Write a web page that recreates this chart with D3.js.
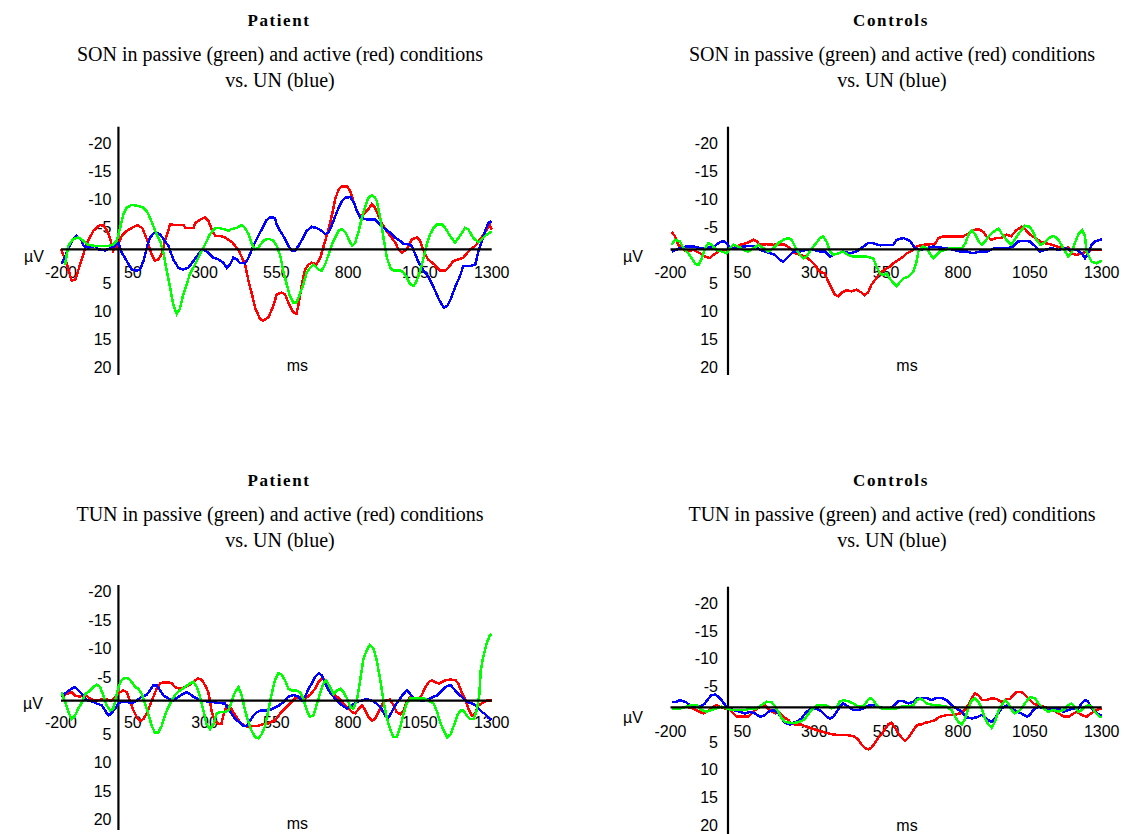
<!DOCTYPE html>
<html>
<head>
<meta charset="utf-8">
<script src="https://cdn.jsdelivr.net/npm/d3@7"></script>
<style>
  html, body { margin: 0; padding: 0; background: #fff; }
  svg { display: block; }
  .title { font-family: "Liberation Serif", "Times New Roman", serif; font-weight: bold; font-size: 17px; letter-spacing: 1.6px; }
  .subtitle { font-family: "Liberation Serif", "Times New Roman", serif; font-size: 20px; }
  .tick, .unit { font-family: "Liberation Sans", Arial, sans-serif; font-size: 16px; fill: #000; }
</style>
</head>
<body>
<svg id="chart" width="1128" height="834"></svg>
<script>
// Time axis (ms) and amplitude axis (µV, negative plotted upward)
const xTicks = [-200, 50, 300, 550, 800, 1050, 1300];
const yTicks = [-20, -15, -10, -5, 5, 10, 15, 20];
const timeDomain = [-200, 1300];

// Difference waves as [ms, µV] pairs.
// SON – Patient
const sonPatientActive = [[-200,0],[-180,2.5],[-163,5.6],[-150,5.4],[-117,0],[-105,-1.6],[-87,-3.3],[-65,-4.3],[-50,-4.2],[-34,-2.7],[-24,-1],[-18,0.3],[-6,-0.4],[12,-2.4],[30,-3.3],[47,-3.8],[65,-4.3],[83,-3.8],[101,-1.5],[113,0.6],[127,2],[139,1.8],[150,0.9],[162,-1.5],[180,-4.4],[205,-4.3],[227,-4.3],[233,-3.8],[262,-3.8],[268,-4.7],[285,-5.3],[302,-5.7],[314,-5],[325,-3.5],[337,-2.4],[355,-2.4],[372,-2.1],[397,-1.2],[420,0.3],[441,2.7],[453,5.6],[465,8],[476,10.4],[493,12.4],[505,12.7],[522,12.1],[533,10.9],[545,9.2],[551,8],[568,7.7],[580,8],[592,9.5],[609,11.2],[620,11.5],[626,10.1],[639,6.2],[650,3.6],[662,2.7],[673,2.4],[690,2.7],[703,1.5],[720,-1.5],[732,-3.6],[744,-6.2],[755,-8.9],[767,-10.7],[779,-11.2],[796,-11.2],[807,-10.4],[818,-8.6],[830,-6.8],[842,-5.9],[853,-6.2],[870,-7.1],[882,-8],[894,-7.4],[906,-5.9],[917,-4.7],[929,-3.6],[946,-2.4],[964,-1.2],[975,0],[987,0.6],[1004,0],[1022,-1.8],[1039,-2.1],[1051,-1.5],[1061,0],[1078,1.8],[1100,2.7],[1120,3.8],[1137,3.8],[1149,3.3],[1166,2.1],[1184,1.8],[1201,1.5],[1225,0],[1243,-0.6],[1260,-1.8],[1277,-3],[1293,-4.4],[1300,-3.5]];
const sonPatientUN = [[-198,2.6],[-180,0.6],[-162,-1.5],[-145,-2.4],[-128,-1.5],[-121,-0.6],[-104,-0.3],[-82,-0.6],[-70,0],[-46,0.2],[-29,-0.2],[-12,-0.6],[0,-1.2],[12,0.6],[29,2.1],[46,3.6],[64,3.8],[75,3.6],[87,2.1],[99,-0.3],[110,-2.1],[127,-3.1],[145,-2.7],[157,-1.8],[174,-0.6],[191,1.8],[209,3.3],[226,3.6],[243,3.3],[261,2.1],[278,0.9],[296,0],[313,0.6],[331,1.5],[348,1.8],[366,2.4],[377,3.3],[389,2.7],[400,1.5],[412,1.8],[423,2.4],[441,2.5],[453,1.5],[470,-0.6],[487,-2.4],[505,-4.1],[516,-5.2],[528,-5.7],[545,-5.6],[551,-4.4],[563,-3.3],[574,-2.4],[592,-0.6],[604,0.3],[615,0.2],[627,-0.6],[644,-2.1],[656,-3.3],[673,-4],[690,-3.8],[708,-3.3],[720,-2.7],[732,-3],[744,-4.4],[755,-5.9],[767,-7.4],[779,-8.6],[791,-9.2],[808,-9.3],[820,-8.3],[831,-6.8],[843,-5.6],[865,-5.3],[894,-5.3],[906,-4.7],[917,-4.1],[929,-3.6],[946,-3],[964,-2.1],[981,-1.5],[993,-0.9],[1010,-0.9],[1022,-0.6],[1034,0.9],[1046,2.4],[1063,3.8],[1081,5],[1098,6.8],[1116,8.9],[1133,10.4],[1145,10.1],[1157,8.9],[1172,6.8],[1190,4.7],[1201,3],[1225,3],[1243,2.7],[1254,0.3],[1266,-1.5],[1277,-3.3],[1289,-4.7],[1300,-5]];
const sonPatientPassive = [[-186,2.8],[-175,-0.6],[-158,-1.8],[-140,-2.1],[-122,-1.5],[-105,-0.8],[-82,-0.6],[-58,-0.6],[-35,-0.6],[-17,-0.9],[-6,-1.5],[6,-3.8],[17,-6.2],[29,-7.4],[46,-7.9],[69,-7.7],[87,-7.4],[99,-6.8],[110,-5.6],[122,-4.1],[133,-2.7],[145,-1.5],[157,0.6],[168,3.8],[180,6.8],[191,9.8],[203,11.5],[214,10.6],[226,8],[238,6.2],[249,4.4],[267,2.7],[284,0.9],[302,-0.9],[319,-2.7],[337,-3.8],[349,-3.8],[366,-3.6],[383,-3.3],[394,-3.6],[412,-3.8],[429,-4.3],[441,-3.8],[453,-2.7],[465,-0.9],[476,0],[487,-0.3],[505,-1.5],[516,-1.8],[528,-1.8],[540,-1.5],[551,-0.6],[563,1],[574,3.8],[586,6.2],[597,8.3],[609,9.5],[620,9.5],[632,8],[644,6.2],[656,4.1],[667,3.3],[679,2.7],[697,3.6],[708,3.8],[720,2.7],[732,0.9],[744,-0.9],[755,-2.1],[767,-3.3],[779,-3.6],[791,-3],[802,-1.8],[814,-0.6],[825,-1.2],[837,-3.3],[848,-5.6],[860,-7.7],[871,-9.2],[883,-9.6],[894,-9.2],[900,-8.6],[912,-5.6],[923,-2.1],[935,1.5],[947,3.3],[958,3.8],[981,3.8],[993,4.1],[1004,5],[1016,6.2],[1028,6.5],[1039,5.6],[1051,3.8],[1063,1.5],[1074,-0.9],[1086,-2.7],[1098,-3.8],[1109,-4.4],[1127,-4.4],[1138,-3.8],[1155,-2.4],[1172,-1.2],[1190,-2.4],[1207,-3.8],[1218,-3.6],[1235,-2.1],[1254,-1.2],[1265,-1.8],[1277,-2.4],[1294,-3],[1300,-3.2]];

// SON – Controls
const sonControlActive = [[-196,-3.1],[-184,-2.3],[-173,-0.8],[-161,-0.2],[-144,0.4],[-120,0.1],[-97,0.7],[-80,1.3],[-63,1.6],[-51,1],[-34,0.4],[-17,0.1],[1,0.1],[18,-0.2],[42,-0.8],[65,-1.1],[88,-1.7],[100,-1.4],[111,-0.8],[134,-0.9],[157,-0.8],[181,-0.9],[198,-0.8],[216,-0.2],[233,0.7],[250,1],[268,1.3],[285,1.9],[302,2.8],[320,4],[337,4.3],[349,5.8],[360,6.9],[372,8.1],[384,8.4],[395,7.7],[413,7.3],[430,7.5],[447,7.2],[465,7.7],[476,8.2],[488,7.6],[499,6.3],[511,5.5],[523,4.6],[534,4],[552,3.4],[563,3.1],[575,2.5],[593,1.9],[610,1.3],[622,0.7],[639,0.3],[656,-0.5],[679,-0.8],[702,-0.9],[720,-0.9],[732,-2],[749,-2.3],[772,-2.3],[795,-2.3],[818,-2.3],[836,-2.8],[853,-3.4],[871,-3.6],[888,-3.1],[899,-2.3],[916,-1.7],[933,-2],[951,-2],[968,-2.6],[985,-2.3],[1003,-3.4],[1021,-4],[1033,-3.6],[1051,-2.6],[1069,-2],[1086,-1.4],[1103,-1.1],[1127,-0.8],[1144,-0.5],[1161,-0.2],[1184,-0.3],[1195,0.7],[1213,1],[1230,0.7],[1247,0.4],[1265,0.1],[1282,0.1],[1300,0.1]];
const sonControlUN = [[-196,0.4],[-167,-0.2],[-144,-0.5],[-120,-0.5],[-97,-0.2],[-74,-0.3],[-51,-0.3],[-34,-1.1],[-17,-1.5],[-5,-1.1],[7,-0.2],[30,-0.2],[53,-0.5],[76,-0.6],[94,-0.5],[111,0.1],[129,0.4],[146,0.7],[164,1],[181,1.9],[193,2.2],[204,1.6],[216,1],[227,0.4],[250,0.4],[273,0.1],[297,0.1],[320,0.4],[337,0.4],[355,1.3],[366,1],[384,0.7],[401,0.4],[424,0.7],[447,0.4],[465,-0.3],[488,-1.1],[505,-1.1],[529,-0.7],[552,-0.8],[575,-0.8],[587,-1.7],[610,-2],[633,-1.5],[650,-0.2],[668,0.1],[691,-0.2],[714,-0.5],[737,-0.3],[760,-0.2],[784,0.1],[807,0.4],[830,0.4],[853,0.7],[877,0.4],[900,0.4],[923,-0.1],[946,-0.2],[969,-0.1],[992,-0.5],[1010,-1.4],[1028,-1.5],[1051,-1.4],[1069,-0.5],[1086,0.4],[1103,0.1],[1127,-0.2],[1150,0.1],[1173,-0.2],[1190,0.1],[1213,0.1],[1230,0.7],[1242,1.6],[1253,0.7],[1265,-0.8],[1276,-1.4],[1294,-1.7],[1300,-1.7]];
const sonControlPassive = [[-196,-0.8],[-184,-1.7],[-167,-1.4],[-155,-0.2],[-138,0.7],[-126,1.6],[-115,2.5],[-103,2.8],[-91,1.6],[-80,-0.2],[-68,-1.1],[-57,-0.8],[-40,0.1],[-22,0.4],[-5,0.7],[7,-0.2],[19,-0.8],[36,-0.5],[53,0.1],[71,0.4],[88,-0.2],[106,-0.8],[123,-0.2],[140,0.4],[158,-0.2],[175,-1.1],[193,-1.7],[210,-2],[221,-1.7],[233,-0.5],[250,1],[262,1.6],[273,1.3],[285,0.4],[302,-0.8],[320,-2],[331,-2.3],[343,-1.4],[355,0.4],[366,1],[384,0.7],[401,0.4],[418,1],[436,1.3],[459,1.3],[482,1.3],[505,1.6],[517,3.1],[529,4.3],[540,4.6],[552,4.3],[563,5.2],[575,6],[587,6.6],[598,5.8],[610,5.2],[627,4.9],[644,4],[656,2.2],[662,0.4],[679,-0.5],[691,-0.2],[702,0.7],[714,1.6],[726,1],[737,0.4],[755,0.1],[772,-0.2],[795,-0.2],[814,-0.2],[826,-1.1],[837,-2.6],[849,-3.4],[860,-2.6],[872,-1.4],[883,-0.8],[895,-1.4],[906,-2.3],[923,-3.1],[941,-3.7],[952,-2.8],[968,-1.7],[985,-0.8],[997,-1.7],[1016,-3.1],[1033,-4.2],[1050,-4],[1061,-3.1],[1073,-1.7],[1087,-0.8],[1099,-1.1],[1116,-2],[1133,-2.4],[1150,-1.7],[1166,-0.2],[1184,1.3],[1197,0.4],[1209,-1.4],[1220,-2.8],[1232,-3.4],[1242,-2.3],[1247,0.4],[1265,2.2],[1282,2.5],[1294,2.2],[1300,2]];

// TUN – Patient
const tunPatientActive = [[-198,-0.7],[-180,-1.2],[-163,-1.5],[-151,-0.9],[-134,-0.7],[-116,-1],[-99,-0.4],[-82,0],[-58,-0.2],[-41,-0.2],[-24,0],[-6,-1],[6,-1.5],[17,-1.8],[29,-1.5],[40,0],[52,1.7],[64,2.9],[75,3.6],[87,3.2],[98,2.3],[110,0.8],[122,-0.7],[133,-2.1],[145,-3],[156,-3.2],[174,-3.2],[185,-3.1],[197,-2.4],[214,-2.1],[232,-2.4],[243,-2.7],[255,-3],[267,-3.6],[278,-3.9],[290,-3.7],[302,-2.7],[313,-1.5],[319,0],[325,2],[336,3.5],[348,4.1],[359,4],[365,2.6],[377,0.8],[389,1.1],[400,2],[412,2.9],[423,3.8],[441,4.4],[453,4.6],[470,4.4],[487,4.4],[505,4.1],[522,4],[540,3.5],[545,3.5],[557,2.6],[568,2],[586,1.1],[598,0.5],[615,-0.4],[632,-0.7],[650,-0.4],[667,-1],[685,-2.1],[697,-3.3],[708,-3.9],[720,-3.6],[732,-2.7],[744,-1.5],[761,-0.7],[779,0.2],[796,1.1],[814,2],[825,2.2],[837,1.4],[848,0.8],[860,1.7],[871,2.9],[883,3.5],[894,3.2],[906,2],[917,0.8],[929,0],[946,-0.2],[958,0.8],[969,2],[981,2.4],[993,1.7],[1004,0.2],[1016,-0.6],[1028,-0.4],[1045,-0.1],[1057,-1],[1069,-2.4],[1081,-3.3],[1092,-3.6],[1104,-3.2],[1116,-3],[1127,-3.3],[1139,-3.6],[1157,-3.7],[1174,-3.6],[1184,-3],[1195,-1.5],[1207,-0.4],[1219,1.4],[1231,2.6],[1242,2.3],[1254,0.8],[1271,0.3],[1283,0],[1300,0]];
const tunPatientUN = [[-198,-0.7],[-180,-1.5],[-163,-2.1],[-151,-2.4],[-140,-1.8],[-128,-1.2],[-116,-0.4],[-105,0],[-87,0.2],[-76,0.5],[-58,0.8],[-47,1.7],[-35,2.6],[-24,2.2],[-12,1.4],[0,0.5],[12,0.2],[29,0.2],[46,0.4],[64,0],[81,-0.7],[98,-1],[110,-1.8],[122,-2.7],[133,-2.7],[145,-1.8],[157,-0.9],[174,-0.4],[191,0],[209,-0.7],[226,-1.2],[238,-1.5],[249,-1.2],[261,-0.7],[273,-0.4],[290,0],[307,0.1],[325,0.2],[348,0.4],[371,0.5],[383,1.4],[394,2.3],[406,3.2],[423,3.8],[435,4.4],[447,4.4],[458,3.5],[470,2.6],[482,2],[499,1.7],[516,1.7],[528,1.6],[545,1.2],[557,0.9],[574,0.3],[592,-0.7],[609,-1],[627,-0.7],[639,0],[650,-0.7],[662,-2.1],[673,-3],[685,-4.2],[697,-4.8],[708,-4.5],[720,-3],[732,-1.8],[744,-1],[761,0],[779,0.8],[796,1.4],[814,0.8],[830,0.2],[848,0],[865,-0.3],[883,0],[894,0.3],[912,1.1],[929,2.6],[941,2.9],[952,2],[964,0.8],[981,-0.4],[993,-1.2],[1004,-1.8],[1016,-1.2],[1028,-0.4],[1045,-0.1],[1063,0],[1081,-0.3],[1098,-0.7],[1110,-0.9],[1121,-1.5],[1133,-2.1],[1145,-2.6],[1157,-2.7],[1168,-2.1],[1178,-1.5],[1195,-0.7],[1213,0.2],[1231,0.5],[1243,0.8],[1254,1.4],[1266,2],[1277,2.3],[1289,3],[1300,3.4]];
const tunPatientPassive = [[-198,-1.5],[-186,0.2],[-174,2],[-163,3.2],[-151,2.6],[-140,1.4],[-128,0.4],[-116,-1.2],[-105,-1.5],[-87,-2.4],[-76,-2.8],[-64,-2.4],[-53,-1],[-41,0.8],[-29,1.7],[-18,1.4],[-12,0.2],[0,-2.4],[11,-3.6],[23,-4],[35,-3.9],[46,-3.3],[58,-2.4],[69,-2.1],[81,-1.2],[93,0.5],[104,2.3],[116,4.4],[127,5.6],[139,5.6],[151,4.4],[162,2.6],[174,1.1],[185,0],[197,-1],[214,-1.8],[232,-2.4],[249,-3],[261,-3.3],[273,-2.4],[284,-0.7],[296,1.7],[307,4.1],[319,5],[331,4.1],[342,2.3],[354,2],[371,2],[383,1.7],[394,0.2],[406,-1.5],[418,-2.4],[429,-1],[441,1.7],[453,3.8],[464,5.3],[476,6.4],[487,6.6],[499,5.9],[511,4.4],[522,1.7],[534,-1.2],[545,-3.6],[557,-4.8],[568,-4.6],[580,-3.6],[592,-2.1],[604,-1.8],[620,-1.8],[632,-1.5],[644,-0.4],[656,1.7],[667,2.8],[679,2.6],[690,0.8],[702,-1.2],[714,-3],[723,-3.6],[737,-2.4],[749,-1.2],[761,-1.8],[773,-2.1],[784,-1.5],[796,-0.4],[807,1.1],[818,1.4],[830,0],[842,-3.6],[853,-7.2],[865,-8.9],[876,-9.8],[888,-9.2],[899,-7.2],[911,-3.9],[923,0],[934,2.9],[946,5],[958,6.4],[969,6.4],[981,4.7],[993,2.3],[1004,0.5],[1016,-0.4],[1045,-0.4],[1063,-0.4],[1081,0],[1098,0.5],[1110,2],[1121,3.8],[1133,5.3],[1145,6.4],[1157,5.9],[1168,4.4],[1180,2.6],[1192,1.7],[1201,1.7],[1213,2.6],[1225,3.2],[1237,3.2],[1248,1.7],[1257,-1.2],[1262,-5.4],[1271,-7.8],[1283,-10.1],[1292,-11.3],[1300,-11.7]];

// TUN – Controls
const tunControlActive = [[-196,0.2],[-167,0.2],[-144,-0.1],[-121,0.2],[-103,0.7],[-86,1.1],[-68,0.6],[-51,-0.1],[-40,-0.4],[-28,-0.1],[-10,0.2],[1,0.2],[13,0.8],[30,1.7],[53,1.7],[71,1.7],[82,1.1],[94,0.5],[111,-0.1],[129,-0.3],[146,0.5],[164,1.1],[175,0.8],[192,1.7],[210,2.3],[221,3],[239,3.1],[256,3.1],[268,3.4],[285,3.7],[302,4],[320,4.3],[343,4.6],[366,4.9],[389,5],[413,5],[436,5.2],[453,5.8],[465,6.7],[476,7.3],[488,7.6],[499,7.3],[511,6.4],[523,5.5],[534,4.9],[546,4],[557,3.1],[569,2.8],[581,3.7],[592,4.6],[604,5.5],[616,6.1],[627,5.5],[639,4.6],[650,3.7],[662,3.1],[673,3.1],[685,2.8],[702,2.6],[720,2.3],[737,1.7],[760,1.4],[784,1.4],[807,1.1],[824,0.5],[836,-0.4],[848,-1.6],[859,-2.5],[871,-2.2],[883,-1.3],[900,-1.3],[917,-1.6],[935,-1.5],[946,-1.1],[958,-1],[969,-1.5],[981,-1.5],[992,-2.2],[1004,-2.8],[1021,-2.8],[1033,-2.2],[1051,-1.3],[1062,-0.7],[1081,-0.3],[1097,-0.1],[1115,0.2],[1132,0.5],[1150,1.1],[1168,1.7],[1186,1.7],[1203,1.1],[1214,0.8],[1230,1.4],[1247,1.7],[1264,1.1],[1282,0.5],[1300,0.2]];
const tunControlUN = [[-196,-1],[-179,-1],[-167,-1.3],[-149,-1],[-132,-0.4],[-115,-0.1],[-97,-0.1],[-80,-0.7],[-68,-1.6],[-57,-2.2],[-45,-2.3],[-34,-1.9],[-22,-1.3],[-10,-0.4],[1,0.2],[19,0.5],[42,0.8],[59,1.1],[77,0.8],[94,1.1],[111,1.7],[129,1.4],[140,0.8],[158,0.5],[175,1.1],[187,2],[198,2.8],[216,3.1],[227,2.8],[239,2.6],[256,2],[273,0.8],[291,0.2],[308,0.2],[326,0.8],[343,1.7],[355,2],[366,1.7],[378,0.8],[389,-0.1],[401,-0.7],[418,-0.1],[436,0.5],[453,0.5],[471,0.2],[488,-0.3],[505,-0.4],[523,-0.1],[540,0.2],[563,0.2],[581,-0.5],[592,-1.1],[610,-1.1],[627,-0.7],[645,-1],[656,-1.6],[673,-1.7],[691,-1.7],[708,-1.3],[725,-1.7],[743,-1.7],[760,-1.3],[778,-0.4],[795,0.2],[813,0.8],[830,1.8],[848,2],[865,1.8],[882,1.4],[894,1.7],[905,2.3],[917,2.6],[929,2],[940,1.1],[952,0.2],[969,-0.3],[987,0.2],[1004,0.8],[1021,1.1],[1039,1.7],[1050,1.4],[1062,0.5],[1080,-0.1],[1097,0.2],[1114,0.5],[1132,0.2],[1149,0.2],[1166,0.8],[1184,0.5],[1201,0.2],[1219,0.2],[1230,-0.7],[1242,-1.3],[1253,-1],[1265,0.2],[1276,0.8],[1294,1.4],[1300,1.5]];
const tunControlPassive = [[-196,0.2],[-167,0.2],[-144,-0.1],[-126,-0.4],[-109,-0.4],[-92,0.5],[-74,0.8],[-57,0.5],[-40,0.2],[-22,-0.1],[-5,0.2],[13,0.5],[36,0.5],[59,0.5],[82,0.2],[100,0.2],[117,-0.4],[135,-1],[152,-0.9],[164,-0.1],[175,0.8],[187,2],[198,2.6],[216,2.8],[233,2.8],[250,2.6],[262,2.3],[273,1.7],[285,0.8],[297,0.2],[308,-0.3],[326,-0.4],[343,-0.3],[360,0.2],[378,-0.1],[389,-1],[401,-1.3],[418,-1.1],[436,-0.7],[453,-0.1],[471,-0.1],[482,-1],[494,-1.7],[505,-1.3],[517,-0.4],[534,0.2],[552,0.2],[569,0.2],[587,0.2],[604,-0.1],[627,-0.1],[645,-0.4],[656,-1.3],[668,-1.6],[679,-1.3],[691,-0.7],[714,-0.4],[737,-0.3],[760,-0.1],[778,0.5],[790,1.7],[801,2.6],[813,3.1],[824,2.2],[836,0.2],[848,-1.3],[859,-1.6],[871,-1],[883,0.2],[894,2],[906,3.1],[917,3.7],[929,2.6],[940,0.8],[952,-0.4],[964,-1.3],[975,-0.7],[987,0.5],[998,1.1],[1016,0.5],[1033,-0.7],[1051,-1.9],[1068,-1.6],[1080,-0.7],[1097,0.2],[1114,0.8],[1132,0.5],[1149,0.8],[1166,0.5],[1184,-0.4],[1195,-0.7],[1207,-0.1],[1219,0.8],[1230,0.5],[1242,-0.1],[1253,-0.4],[1265,-0.1],[1276,0.8],[1294,1.7],[1300,1.8]];

const colors = { active: "#ff0000", un: "#0000ff", passive: "#00ff00" };

// Panel layout: plotting frame for each of the four graphs
const panels = [
  { title: "Patient", subtitle: "SON in passive (green) and active (red) conditions",
    series: [sonPatientActive, sonPatientUN, sonPatientPassive],
    cx: 279, titleY: 26, x0: 61, x1: 491.7, zeroY: 249.3, k: 5.62,
    axisTop: 126.7, axisBottom: 375, yLabOff: 6, xLabY: 272, labGap: 7,
    uvX: 34, uvY: 256, msY: 365 },
  { title: "Controls", subtitle: "SON in passive (green) and active (red) conditions",
    series: [sonControlActive, sonControlUN, sonControlPassive],
    cx: 891, titleY: 26, x0: 670.5, x1: 1101.7, zeroY: 249.3, k: 5.62,
    axisTop: 126.7, axisBottom: 375, yLabOff: 6, xLabY: 272, labGap: 10,
    uvX: 633, uvY: 256, msY: 365 },
  { title: "Patient", subtitle: "TUN in passive (green) and active (red) conditions",
    series: [tunPatientActive, tunPatientUN, tunPatientPassive],
    cx: 279, titleY: 486, x0: 61, x1: 491.7, zeroY: 700.7, k: 5.7,
    axisTop: 585, axisBottom: 830, yLabOff: 5, xLabY: 722, labGap: 7,
    uvX: 33, uvY: 703, msY: 823 },
  { title: "Controls", subtitle: "TUN in passive (green) and active (red) conditions",
    series: [tunControlActive, tunControlUN, tunControlPassive],
    cx: 891, titleY: 486, x0: 670.5, x1: 1101.7, zeroY: 707.3, k: 5.55,
    axisTop: 586.7, axisBottom: 834, yLabOff: 7, xLabY: 731, labGap: 10,
    uvX: 633, uvY: 717, msY: 825 }
];

const svg = d3.select("#chart");
const seriesColors = [colors.active, colors.un, colors.passive];

panels.forEach(p => {
  const g = svg.append("g");

  const x = d3.scaleLinear().domain(timeDomain).range([p.x0, p.x1]);
  const y = d3.scaleLinear().domain([-20, 20]).range([p.zeroY - 20 * p.k, p.zeroY + 20 * p.k]);

  // Headings
  g.append("text").attr("class", "title").attr("x", p.cx).attr("y", p.titleY)
    .attr("text-anchor", "middle").text(p.title);
  g.append("text").attr("class", "subtitle").attr("x", p.cx + 1).attr("y", p.titleY + 35)
    .attr("text-anchor", "middle").text(p.subtitle);
  g.append("text").attr("class", "subtitle").attr("x", p.cx + 1).attr("y", p.titleY + 61)
    .attr("text-anchor", "middle").text("vs. UN (blue)");

  const axisX = x(0);

  // Vertical amplitude axis
  g.append("line")
    .attr("x1", axisX).attr("x2", axisX)
    .attr("y1", p.axisTop).attr("y2", p.axisBottom)
    .attr("stroke", "#000").attr("stroke-width", 2.2);

  // Amplitude tick labels
  g.selectAll(".ylab").data(yTicks).enter().append("text")
    .attr("class", "tick")
    .attr("x", axisX - p.labGap)
    .attr("y", d => y(d) + p.yLabOff)
    .attr("dy", "0.35em")
    .attr("text-anchor", "end")
    .text(d => d);

  // Time tick labels
  g.selectAll(".xlab").data(xTicks).enter().append("text")
    .attr("class", "tick")
    .attr("x", d => x(d))
    .attr("y", p.xLabY)
    .attr("dy", "0.35em")
    .attr("text-anchor", "middle")
    .text(d => d);

  // Unit labels
  g.append("text").attr("class", "unit").attr("x", p.uvX).attr("y", p.uvY)
    .attr("dy", "0.35em").attr("text-anchor", "middle").text("µV");
  g.append("text").attr("class", "unit").attr("x", axisX + 179).attr("y", p.msY)
    .attr("dy", "0.35em").attr("text-anchor", "middle").text("ms");

  // Waveforms
  const line = d3.line().x(d => x(d[0])).y(d => y(d[1])).curve(d3.curveLinear);
  p.series.forEach((s, i) => {
    g.append("path")
      .datum(s)
      .attr("d", line)
      .attr("fill", "none")
      .attr("stroke", seriesColors[i])
      .attr("stroke-width", 2.5)
      .attr("stroke-linejoin", "miter")
      .attr("shape-rendering", "crispEdges");
  });

  // Zero baseline drawn over the waveforms
  g.append("line")
    .attr("x1", x(timeDomain[0])).attr("x2", x(timeDomain[1]))
    .attr("y1", y(0)).attr("y2", y(0))
    .attr("stroke", "#000").attr("stroke-width", 2.2);
});
</script>
</body>
</html>
